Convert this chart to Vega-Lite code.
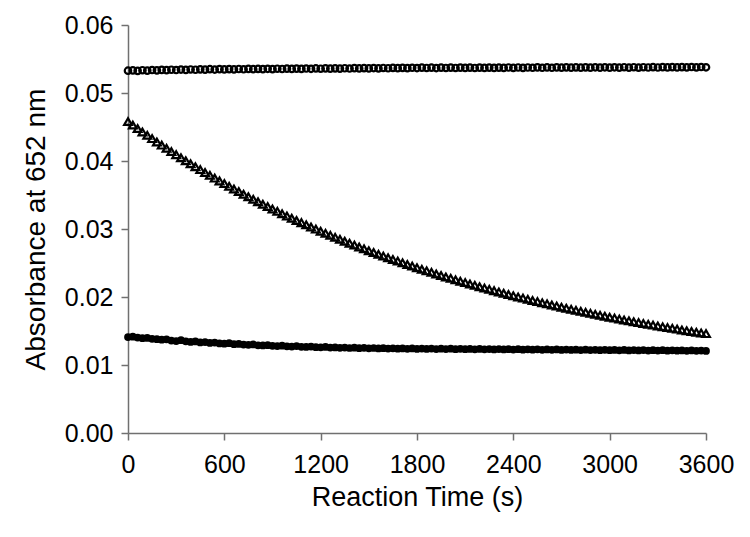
{
  "$schema": "https://vega.github.io/schema/vega-lite/v6.json",
  "autosize": {"type": "none"},
  "padding": {"left": 128, "top": 25, "right": 44, "bottom": 104},
  "width": 578,
  "height": 408,
  "background": "white",
  "config": {
    "view": {"stroke": null},
    "font": "Liberation Sans",
    "axis": {"grid": false, "labelFont": "Liberation Sans", "titleFont": "Liberation Sans", "labelColor": "#000", "titleColor": "#000", "titleFontWeight": "normal", "domainColor": "#707070", "tickColor": "#707070", "domainWidth": 1.5, "tickWidth": 1.5, "tickSize": 7}
  },
  "datasets": {
    "circles": [
      {"t":0,"y":0.05328},{"t":30,"y":0.05332},{"t":60,"y":0.05326},{"t":90,"y":0.05335},{"t":120,"y":0.0533},{"t":150,"y":0.05338},{"t":180,"y":0.05333},{"t":210,"y":0.0534},{"t":240,"y":0.05336},{"t":270,"y":0.05342},
      {"t":300,"y":0.05338},{"t":330,"y":0.05345},{"t":360,"y":0.0534},{"t":390,"y":0.05346},{"t":420,"y":0.05342},{"t":450,"y":0.05348},{"t":480,"y":0.05344},{"t":510,"y":0.0535},{"t":540,"y":0.05345},{"t":570,"y":0.05351},
      {"t":600,"y":0.05347},{"t":630,"y":0.05352},{"t":660,"y":0.05348},{"t":690,"y":0.05353},{"t":720,"y":0.05349},{"t":750,"y":0.05354},{"t":780,"y":0.0535},{"t":810,"y":0.05355},{"t":840,"y":0.05351},{"t":870,"y":0.05356},
      {"t":900,"y":0.05352},{"t":930,"y":0.05357},{"t":960,"y":0.05353},{"t":990,"y":0.05358},{"t":1020,"y":0.05354},{"t":1050,"y":0.05359},{"t":1080,"y":0.05355},{"t":1110,"y":0.0536},{"t":1140,"y":0.05356},{"t":1170,"y":0.05361},
      {"t":1200,"y":0.05357},{"t":1230,"y":0.05362},{"t":1260,"y":0.05358},{"t":1290,"y":0.05363},{"t":1320,"y":0.05359},{"t":1350,"y":0.05364},{"t":1380,"y":0.0536},{"t":1410,"y":0.05365},{"t":1440,"y":0.05361},{"t":1470,"y":0.05366},
      {"t":1500,"y":0.05362},{"t":1530,"y":0.05367},{"t":1560,"y":0.05363},{"t":1590,"y":0.05368},{"t":1620,"y":0.05364},{"t":1650,"y":0.05369},{"t":1680,"y":0.05365},{"t":1710,"y":0.0537},{"t":1740,"y":0.05366},{"t":1770,"y":0.05371},
      {"t":1800,"y":0.05367},{"t":1830,"y":0.05373},{"t":1860,"y":0.05368},{"t":1890,"y":0.05372},{"t":1920,"y":0.05367},{"t":1950,"y":0.05373},{"t":1980,"y":0.05368},{"t":2010,"y":0.05374},{"t":2040,"y":0.05368},{"t":2070,"y":0.05373},
      {"t":2100,"y":0.05369},{"t":2130,"y":0.05374},{"t":2160,"y":0.05368},{"t":2190,"y":0.05373},{"t":2220,"y":0.05369},{"t":2250,"y":0.05374},{"t":2280,"y":0.05369},{"t":2310,"y":0.05374},{"t":2340,"y":0.0537},{"t":2370,"y":0.05375},
      {"t":2400,"y":0.0537},{"t":2430,"y":0.05375},{"t":2460,"y":0.0537},{"t":2490,"y":0.05375},{"t":2520,"y":0.05371},{"t":2550,"y":0.05376},{"t":2580,"y":0.05371},{"t":2610,"y":0.05376},{"t":2640,"y":0.05371},{"t":2670,"y":0.05376},
      {"t":2700,"y":0.05372},{"t":2730,"y":0.05377},{"t":2760,"y":0.05372},{"t":2790,"y":0.05377},{"t":2820,"y":0.05372},{"t":2850,"y":0.05377},{"t":2880,"y":0.05373},{"t":2910,"y":0.05378},{"t":2940,"y":0.05373},{"t":2970,"y":0.05378},
      {"t":3000,"y":0.05373},{"t":3030,"y":0.05378},{"t":3060,"y":0.05374},{"t":3090,"y":0.05379},{"t":3120,"y":0.05374},{"t":3150,"y":0.05379},{"t":3180,"y":0.05374},{"t":3210,"y":0.05379},{"t":3240,"y":0.05375},{"t":3270,"y":0.0538},
      {"t":3300,"y":0.05375},{"t":3330,"y":0.0538},{"t":3360,"y":0.05376},{"t":3390,"y":0.05381},{"t":3420,"y":0.05376},{"t":3450,"y":0.05381},{"t":3480,"y":0.05377},{"t":3510,"y":0.05382},{"t":3540,"y":0.05377},{"t":3570,"y":0.05382},
      {"t":3600,"y":0.05378}
    ],
    "triangles": [
      {"t":0,"y":0.0458},{"t":30,"y":0.04528},{"t":60,"y":0.04477},{"t":90,"y":0.04427},{"t":120,"y":0.04378},{"t":150,"y":0.04329},{"t":180,"y":0.0428},{"t":210,"y":0.04233},{"t":240,"y":0.04186},{"t":270,"y":0.04139},
      {"t":300,"y":0.04093},{"t":330,"y":0.04048},{"t":360,"y":0.04004},{"t":390,"y":0.0396},{"t":420,"y":0.03916},{"t":450,"y":0.03873},{"t":480,"y":0.03831},{"t":510,"y":0.03789},{"t":540,"y":0.03748},{"t":570,"y":0.03707},
      {"t":600,"y":0.03667},{"t":630,"y":0.03628},{"t":660,"y":0.03589},{"t":690,"y":0.0355},{"t":720,"y":0.03512},{"t":750,"y":0.03475},{"t":780,"y":0.03437},{"t":810,"y":0.03401},{"t":840,"y":0.03365},{"t":870,"y":0.03329},
      {"t":900,"y":0.03294},{"t":930,"y":0.03259},{"t":960,"y":0.03225},{"t":990,"y":0.03192},{"t":1020,"y":0.03158},{"t":1050,"y":0.03125},{"t":1080,"y":0.03093},{"t":1110,"y":0.03061},{"t":1140,"y":0.03029},{"t":1170,"y":0.02998},
      {"t":1200,"y":0.02967},{"t":1230,"y":0.02937},{"t":1260,"y":0.02907},{"t":1290,"y":0.02877},{"t":1320,"y":0.02848},{"t":1350,"y":0.0282},{"t":1380,"y":0.02791},{"t":1410,"y":0.02763},{"t":1440,"y":0.02735},{"t":1470,"y":0.02708},
      {"t":1500,"y":0.02681},{"t":1530,"y":0.02655},{"t":1560,"y":0.02628},{"t":1590,"y":0.02602},{"t":1620,"y":0.02577},{"t":1650,"y":0.02552},{"t":1680,"y":0.02527},{"t":1710,"y":0.02502},{"t":1740,"y":0.02478},{"t":1770,"y":0.02454},
      {"t":1800,"y":0.02431},{"t":1830,"y":0.02407},{"t":1860,"y":0.02384},{"t":1890,"y":0.02362},{"t":1920,"y":0.02339},{"t":1950,"y":0.02317},{"t":1980,"y":0.02295},{"t":2010,"y":0.02274},{"t":2040,"y":0.02253},{"t":2070,"y":0.02232},
      {"t":2100,"y":0.02211},{"t":2130,"y":0.02191},{"t":2160,"y":0.02171},{"t":2190,"y":0.02151},{"t":2220,"y":0.02131},{"t":2250,"y":0.02112},{"t":2280,"y":0.02093},{"t":2310,"y":0.02074},{"t":2340,"y":0.02055},{"t":2370,"y":0.02037},
      {"t":2400,"y":0.02019},{"t":2430,"y":0.02001},{"t":2460,"y":0.01983},{"t":2490,"y":0.01966},{"t":2520,"y":0.01949},{"t":2550,"y":0.01932},{"t":2580,"y":0.01915},{"t":2610,"y":0.01899},{"t":2640,"y":0.01882},{"t":2670,"y":0.01866},
      {"t":2700,"y":0.0185},{"t":2730,"y":0.01835},{"t":2760,"y":0.01819},{"t":2790,"y":0.01804},{"t":2820,"y":0.01789},{"t":2850,"y":0.01774},{"t":2880,"y":0.0176},{"t":2910,"y":0.01745},{"t":2940,"y":0.01731},{"t":2970,"y":0.01717},
      {"t":3000,"y":0.01703},{"t":3030,"y":0.01689},{"t":3060,"y":0.01676},{"t":3090,"y":0.01662},{"t":3120,"y":0.01649},{"t":3150,"y":0.01636},{"t":3180,"y":0.01623},{"t":3210,"y":0.01611},{"t":3240,"y":0.01598},{"t":3270,"y":0.01586},
      {"t":3300,"y":0.01574},{"t":3330,"y":0.01562},{"t":3360,"y":0.0155},{"t":3390,"y":0.01538},{"t":3420,"y":0.01527},{"t":3450,"y":0.01515},{"t":3480,"y":0.01504},{"t":3510,"y":0.01493},{"t":3540,"y":0.01482},{"t":3570,"y":0.01471},
      {"t":3600,"y":0.01461}
    ],
    "filled": [
      {"t":0,"y":0.0141},{"t":30,"y":0.01416},{"t":60,"y":0.01404},{"t":90,"y":0.01395},{"t":120,"y":0.01398},{"t":150,"y":0.01385},{"t":180,"y":0.0138},{"t":210,"y":0.01372},{"t":240,"y":0.01378},{"t":270,"y":0.0136},
      {"t":300,"y":0.01352},{"t":330,"y":0.01365},{"t":360,"y":0.01348},{"t":390,"y":0.0134},{"t":420,"y":0.01346},{"t":450,"y":0.01332},{"t":480,"y":0.01338},{"t":510,"y":0.01325},{"t":540,"y":0.0133},{"t":570,"y":0.01318},
      {"t":600,"y":0.01314},{"t":630,"y":0.0132},{"t":660,"y":0.01306},{"t":690,"y":0.0131},{"t":720,"y":0.013},{"t":750,"y":0.01296},{"t":780,"y":0.01302},{"t":810,"y":0.0129},{"t":840,"y":0.01287},{"t":870,"y":0.01292},
      {"t":900,"y":0.01282},{"t":930,"y":0.01279},{"t":960,"y":0.01284},{"t":990,"y":0.01274},{"t":1020,"y":0.01272},{"t":1050,"y":0.01278},{"t":1080,"y":0.01268},{"t":1110,"y":0.01266},{"t":1140,"y":0.01271},{"t":1170,"y":0.01262},
      {"t":1200,"y":0.0126},{"t":1230,"y":0.01265},{"t":1260,"y":0.01256},{"t":1290,"y":0.01258},{"t":1320,"y":0.01252},{"t":1350,"y":0.01257},{"t":1380,"y":0.0125},{"t":1410,"y":0.01254},{"t":1440,"y":0.01248},{"t":1470,"y":0.01252},
      {"t":1500,"y":0.01245},{"t":1530,"y":0.0125},{"t":1560,"y":0.01243},{"t":1590,"y":0.01247},{"t":1620,"y":0.01241},{"t":1650,"y":0.01246},{"t":1680,"y":0.0124},{"t":1710,"y":0.01244},{"t":1740,"y":0.01238},{"t":1770,"y":0.01243},
      {"t":1800,"y":0.01237},{"t":1830,"y":0.01242},{"t":1860,"y":0.01236},{"t":1890,"y":0.01241},{"t":1920,"y":0.01235},{"t":1950,"y":0.0124},{"t":1980,"y":0.01234},{"t":2010,"y":0.01239},{"t":2040,"y":0.01233},{"t":2070,"y":0.01238},
      {"t":2100,"y":0.01232},{"t":2130,"y":0.01237},{"t":2160,"y":0.01231},{"t":2190,"y":0.01236},{"t":2220,"y":0.0123},{"t":2250,"y":0.01235},{"t":2280,"y":0.01229},{"t":2310,"y":0.01234},{"t":2340,"y":0.01228},{"t":2370,"y":0.01233},
      {"t":2400,"y":0.01227},{"t":2430,"y":0.01232},{"t":2460,"y":0.01226},{"t":2490,"y":0.01231},{"t":2520,"y":0.01225},{"t":2550,"y":0.0123},{"t":2580,"y":0.01224},{"t":2610,"y":0.01229},{"t":2640,"y":0.01223},{"t":2670,"y":0.01228},
      {"t":2700,"y":0.01222},{"t":2730,"y":0.01227},{"t":2760,"y":0.01221},{"t":2790,"y":0.01226},{"t":2820,"y":0.0122},{"t":2850,"y":0.01225},{"t":2880,"y":0.01219},{"t":2910,"y":0.01224},{"t":2940,"y":0.01218},{"t":2970,"y":0.01223},
      {"t":3000,"y":0.01217},{"t":3030,"y":0.01222},{"t":3060,"y":0.01216},{"t":3090,"y":0.01221},{"t":3120,"y":0.01215},{"t":3150,"y":0.0122},{"t":3180,"y":0.01214},{"t":3210,"y":0.01219},{"t":3240,"y":0.01213},{"t":3270,"y":0.01218},
      {"t":3300,"y":0.01212},{"t":3330,"y":0.01217},{"t":3360,"y":0.01211},{"t":3390,"y":0.01216},{"t":3420,"y":0.0121},{"t":3450,"y":0.01215},{"t":3480,"y":0.01209},{"t":3510,"y":0.01214},{"t":3540,"y":0.01208},{"t":3570,"y":0.01213},
      {"t":3600,"y":0.01207}
    ]
  },
  "encoding": {
    "x": {"field": "t", "type": "quantitative", "scale": {"domain": [0, 3600], "nice": false, "zero": false},
      "axis": {"values": [0, 600, 1200, 1800, 2400, 3000, 3600], "format": "d", "title": "Reaction Time (s)", "labelFontSize": 25, "titleFontSize": 27, "labelPadding": 12, "titlePadding": 7, "labelFlush": false}},
    "y": {"field": "y", "type": "quantitative", "scale": {"domain": [0, 0.06], "nice": false},
      "axis": {"values": [0, 0.01, 0.02, 0.03, 0.04, 0.05, 0.06], "format": ".2f", "title": "Absorbance at 652 nm", "labelFontSize": 25, "titleFontSize": 28, "labelPadding": 8, "titlePadding": 14, "labelFlush": false}}
  },
  "layer": [
    {"data": {"name": "circles"}, "mark": {"type": "point", "shape": "circle", "filled": false, "stroke": "#000", "strokeWidth": 2.2, "size": 42, "opacity": 1}},
    {"data": {"name": "triangles"}, "mark": {"type": "point", "shape": "triangle-up", "filled": false, "stroke": "#000", "strokeWidth": 2.2, "size": 60, "opacity": 1}},
    {"data": {"name": "filled"}, "mark": {"type": "point", "shape": "circle", "filled": true, "fill": "#000", "size": 60, "opacity": 1}}
  ]
}
